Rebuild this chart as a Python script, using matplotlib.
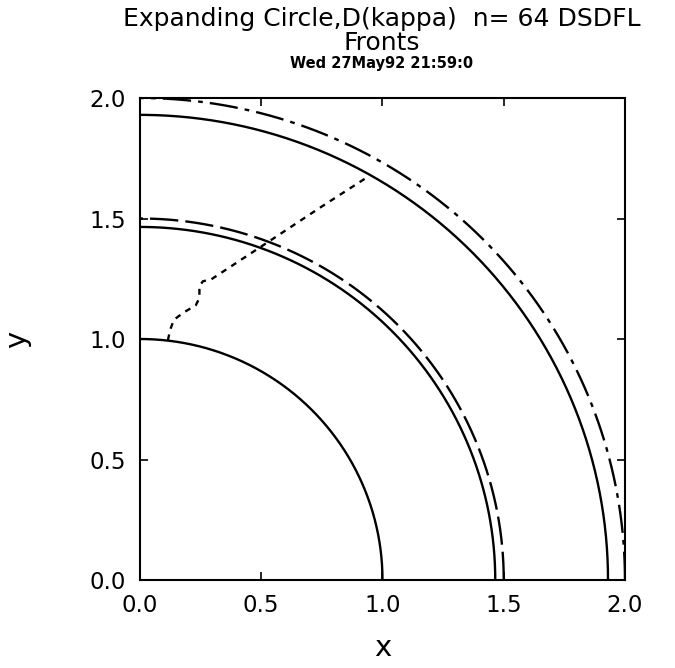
import numpy as np
import matplotlib
matplotlib.use("Agg")
from matplotlib import pyplot as plt

# front radii
radii = [1.0, 1.465, 1.50, 1.93, 2.0]
styles = ['-', '-', (0, (12, 3)), '-', (0, (12, 3, 2, 3))]

# dotted path (x, y)
path_x = [0.115, 0.125, 0.14, 0.18, 0.23, 0.245, 0.245, 0.26, 0.29, 0.52, 0.75, 0.935]
path_y = [0.995, 1.04, 1.08, 1.11, 1.14, 1.17, 1.22, 1.24, 1.245, 1.397, 1.55, 1.67]

fig = plt.figure(figsize=(6.75, 6.68), dpi=100)
ax = fig.add_axes([0.2074, 0.1317, 0.7185, 0.7216])

theta = np.linspace(0, np.pi / 2, 400)
for r, ls in zip(radii, styles):
    ax.plot(r * np.cos(theta), r * np.sin(theta), color='black', lw=1.7, linestyle=ls)

ax.plot(path_x, path_y, color='black', lw=1.7, linestyle=(0, (2.5, 2.5)))

ax.set_xlim(0, 2)
ax.set_ylim(0, 2)
ax.set_xticks([0.0, 0.5, 1.0, 1.5, 2.0])
ax.set_yticks([0.0, 0.5, 1.0, 1.5, 2.0])
ax.tick_params(direction='in', length=6, width=1.2, top=True, right=True,
               labelsize=16.5, pad=10)
for s in ax.spines.values():
    s.set_linewidth(1.5)

ax.set_xlabel('x', fontsize=21, labelpad=12)
ax.set_ylabel('y', fontsize=21, labelpad=42)

fig.text(0.565, 0.972, 'Expanding Circle,D(kappa)  n= 64 DSDFL', ha='center', va='center', fontsize=18)
fig.text(0.565, 0.935, 'Fronts', ha='center', va='center', fontsize=18)
fig.text(0.565, 0.905, 'Wed 27May92 21:59:0', ha='center', va='center', fontsize=10.5, fontweight='bold')

plt.savefig('out.png', dpi=100)
